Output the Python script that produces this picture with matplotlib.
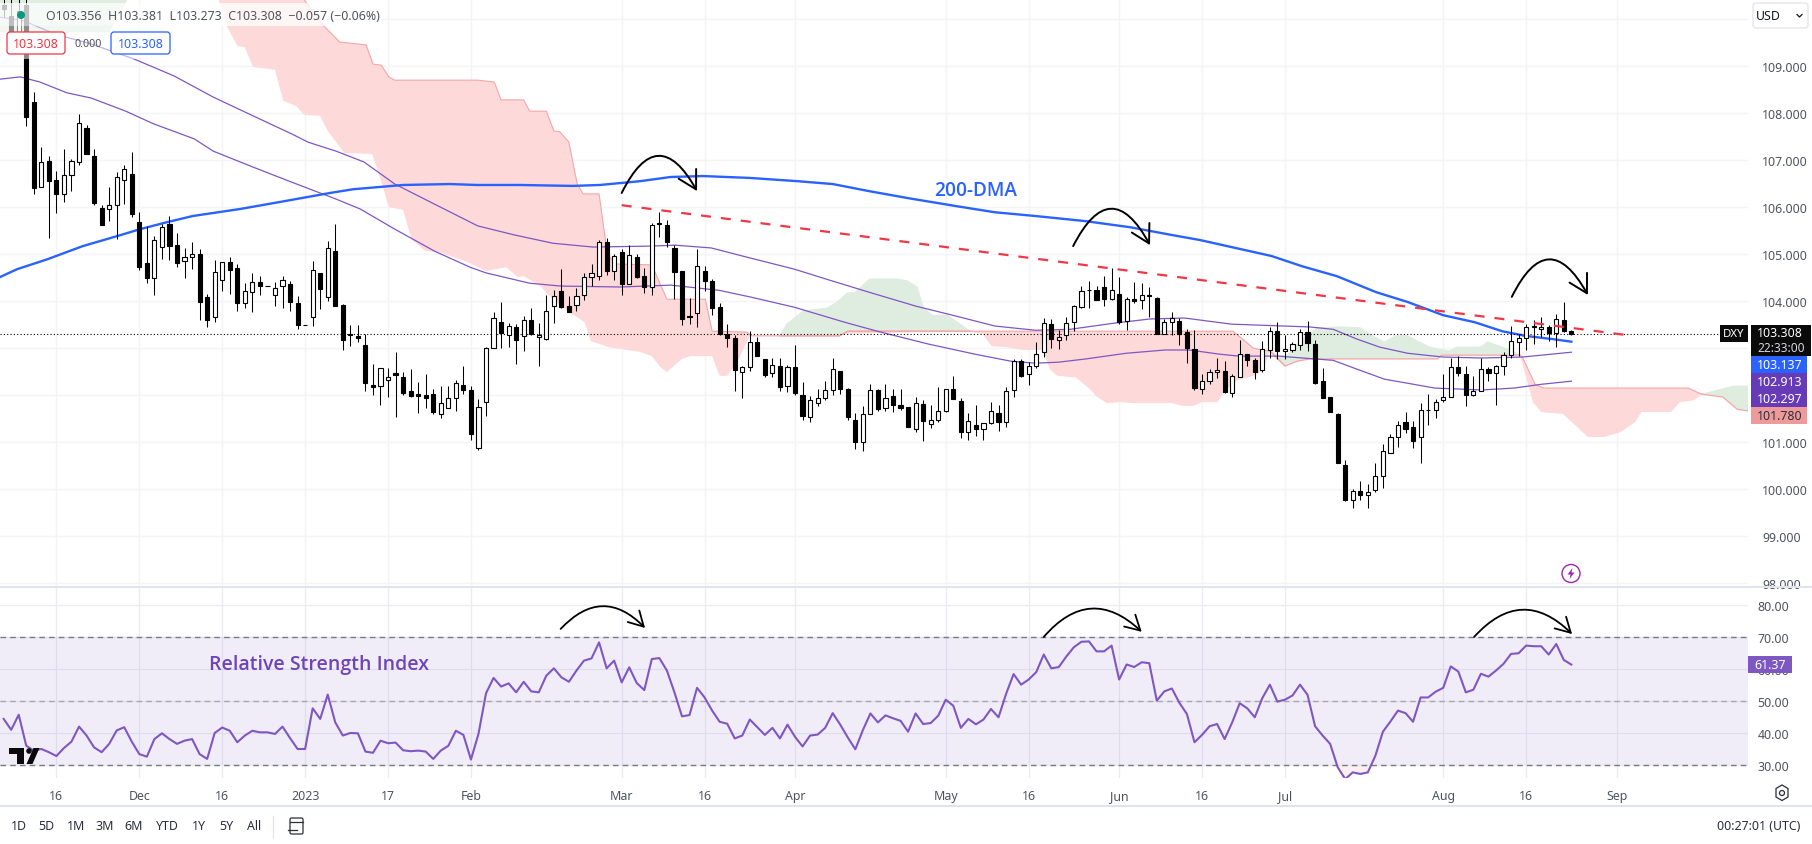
import numpy as np
from matplotlib import pyplot as plt
from matplotlib.patches import Rectangle, FancyBboxPatch, FancyArrowPatch, Circle, Polygon

plt.rcParams['font.family'] = ['Noto Sans', 'DejaVu Sans']
plt.rcParams['font.size'] = 8.9
plt.figure(figsize=(18.12,8.45),dpi=100)

# daily candles, open high low close
candles=[[110.30,110.60,110.04,110.21],[110.06,110.60,109.72,109.72],[109.72,110.60,109.70,110.17],[110.30,110.60,107.73,107.92],
[108.23,108.44,106.28,106.41],[106.42,107.27,106.42,106.95],[106.99,107.09,105.35,106.56],[106.57,106.77,105.88,106.28],
[106.27,107.23,106.11,106.69],[106.69,107.03,106.35,106.97],[106.96,107.99,106.90,107.78],[107.69,107.74,107.13,107.13],
[107.08,107.23,106.04,106.09],[105.99,106.05,105.62,105.62],[105.95,106.42,105.71,106.05],[106.05,106.74,105.32,106.65],
[106.57,106.89,106.06,106.82],[106.71,107.18,105.79,105.86],[105.69,105.89,104.67,104.73],[104.82,105.59,104.39,104.49],
[104.49,105.39,104.13,105.29],[105.16,105.64,104.90,105.57],[105.63,105.82,104.87,105.18],[105.20,105.45,104.73,104.81],
[104.86,105.14,104.49,104.93],[104.93,105.25,104.69,105.00],[105.00,105.10,103.60,103.98],[104.08,104.16,103.45,103.60],
[103.67,104.88,103.56,104.61],[104.44,104.84,104.22,104.84],[104.84,104.93,104.15,104.66],[104.71,104.79,103.79,103.96],
[103.95,104.38,103.86,104.22],[104.20,104.59,103.77,104.40],[104.40,104.54,104.13,104.32],[104.33,104.33,104.33,104.33],
[104.12,104.40,103.90,104.27],[104.33,104.54,103.86,104.45],[104.37,104.43,103.79,103.98],[103.95,104.10,103.40,103.49],
[103.50,103.50,103.50,103.50],[103.67,104.86,103.47,104.67],[104.59,104.59,103.84,104.26],[104.08,105.27,104.01,105.14],
[105.06,105.64,103.89,103.90],[103.91,103.93,102.96,103.18],[103.31,103.49,103.05,103.27],[103.26,103.49,103.14,103.22],
[103.06,103.30,102.09,102.25],[102.22,102.66,102.00,102.18],[102.19,102.57,101.79,102.57],[102.33,102.57,101.96,102.38],
[102.47,102.91,101.54,102.42],[102.38,102.49,102.01,102.05],[102.09,102.56,101.97,101.99],[102.03,102.27,101.61,101.99],
[102.00,102.44,101.73,101.93],[102.03,102.13,101.60,101.65],[101.59,102.19,101.51,101.83],[101.72,102.19,101.72,101.93],
[101.93,102.32,101.67,102.25],[102.22,102.62,102.03,102.10],[102.10,102.19,101.05,101.18],[100.87,101.92,100.84,101.74],
[101.85,103.02,101.56,103.00],[103.00,103.76,103.00,103.63],[103.55,103.98,103.00,103.33],[103.27,103.53,103.03,103.47],
[103.44,103.51,102.67,103.18],[103.25,103.68,102.93,103.59],[103.59,103.85,103.27,103.30],[103.23,103.53,102.61,103.27],
[103.20,104.12,103.18,103.80],[103.89,104.23,103.54,104.10],[104.21,104.68,103.86,103.88],[103.89,104.10,103.76,103.76],
[103.91,104.27,103.80,104.10],[104.12,104.59,104.03,104.51],[104.51,104.78,104.33,104.59],[104.54,105.31,104.44,105.25],
[105.25,105.35,104.56,104.63],[104.63,105.00,104.44,104.95],[105.04,105.10,104.12,104.37],[104.37,105.19,104.37,104.98],
[104.93,105.00,104.50,104.52],[104.53,104.70,104.18,104.30],[104.29,105.66,104.13,105.61],[105.67,105.89,105.37,105.65],
[105.62,105.72,105.16,105.26],[105.12,105.19,104.04,104.62],[104.63,104.63,103.49,103.62],[103.68,104.06,103.51,103.67],
[103.74,105.10,103.45,104.74],[104.63,104.74,104.22,104.43],[104.42,104.47,103.71,103.86],[103.87,103.95,103.28,103.30],
[103.31,103.52,103.02,103.22],[103.21,103.28,102.09,102.54],[102.50,102.62,101.94,102.59],[102.60,103.36,102.51,103.12],
[103.12,103.23,102.84,102.84],[102.76,102.77,102.39,102.43],[102.48,102.79,102.39,102.65],[102.63,102.79,102.09,102.18],
[102.20,102.64,102.07,102.59],[102.59,103.06,102.01,102.05],[102.01,102.27,101.48,101.56],[101.53,101.99,101.43,101.89],
[101.84,102.14,101.77,101.93],[101.94,102.29,101.90,102.10],[102.10,102.80,102.01,102.55],[102.52,102.52,102.03,102.13],
[102.14,102.16,101.48,101.54],[101.48,101.61,100.86,101.01],[101.01,101.76,100.82,101.59],[101.59,102.23,101.59,102.10],
[102.10,102.14,101.67,101.71],[101.72,102.23,101.67,101.94],[101.99,102.12,101.65,101.80],[101.80,102.12,101.68,101.73],
[101.74,101.74,101.33,101.33],[101.27,101.95,101.22,101.84],[101.82,101.89,101.03,101.45],[101.39,101.80,101.30,101.47],
[101.48,102.18,101.43,101.67],[101.67,102.12,101.65,102.12],[102.14,102.40,101.92,101.92],[101.87,101.93,101.09,101.22],
[101.21,101.63,101.05,101.46],[101.37,101.79,101.14,101.29],[101.29,101.40,101.05,101.40],[101.40,101.85,101.38,101.66],
[101.63,101.80,101.24,101.42],[101.42,102.17,101.33,102.08],[102.10,102.77,101.97,102.72],[102.72,102.77,102.39,102.41],
[102.44,102.70,102.22,102.61],[102.61,103.12,102.57,102.87],[102.91,103.63,102.82,103.53],[103.51,103.61,103.01,103.19],
[103.18,103.39,102.99,103.23],[103.27,103.66,103.18,103.53],[103.55,103.91,103.37,103.89],[103.87,104.32,103.85,104.21],
[104.23,104.42,103.85,104.23],[104.23,104.32,104.03,104.03],[104.29,104.53,103.90,104.05],[104.05,104.70,104.03,104.23],
[104.15,104.51,103.51,103.55],[103.57,104.08,103.39,104.04],[104.04,104.40,103.95,104.00],[104.02,104.38,103.84,104.12],
[104.12,104.29,103.66,104.10],[104.06,104.08,103.31,103.31],[103.29,103.61,103.29,103.55],[103.55,103.76,103.27,103.63],
[103.57,103.63,103.07,103.31],[103.34,103.40,102.69,103.01],[102.98,103.38,102.11,102.15],[102.12,102.44,102.03,102.31],
[102.31,102.55,102.24,102.49],[102.49,102.78,102.36,102.54],[102.51,102.72,102.05,102.07],[102.04,102.46,101.95,102.40],
[102.38,103.17,102.38,102.87],[102.87,102.87,102.62,102.75],[102.74,102.80,102.35,102.50],[102.53,103.15,102.50,102.98],
[102.95,103.44,102.80,103.36],[103.36,103.55,102.77,102.93],[102.93,103.27,102.77,102.98],[102.96,103.12,102.91,103.08],
[103.06,103.40,102.96,103.35],[103.35,103.57,102.94,103.11],[103.08,103.18,102.24,102.25],[102.29,102.57,101.94,101.94],
[101.95,101.97,101.64,101.64],[101.59,101.61,100.55,100.56],[100.52,100.61,99.75,99.77],[99.76,100.01,99.60,99.97],
[99.97,100.18,99.77,99.88],[99.88,100.12,99.60,99.93],[99.98,100.55,99.94,100.29],[100.29,100.97,100.03,100.82],
[100.77,101.18,100.76,101.10],[101.10,101.44,100.90,101.37],[101.42,101.65,101.20,101.28],[101.33,101.44,100.87,101.03],
[101.10,101.84,100.56,101.69],[101.69,102.03,101.36,101.69],[101.69,101.91,101.52,101.86],[101.89,102.44,101.86,101.97],
[101.97,102.78,101.97,102.59],[102.59,102.84,102.40,102.48],[102.46,102.63,101.76,102.01],[102.01,102.40,101.98,102.08],
[102.08,102.80,102.08,102.55],[102.55,102.59,102.30,102.48],[102.48,102.65,101.79,102.63],[102.61,102.91,102.43,102.86],
[102.86,103.46,102.79,103.16],[103.14,103.29,102.84,103.21],[103.21,103.52,102.96,103.44],[103.48,103.59,103.08,103.44],
[103.40,103.67,103.23,103.44],[103.44,103.50,103.15,103.33],[103.33,103.72,103.03,103.61],[103.59,103.98,103.35,103.37],
[103.356,103.381,103.273,103.308]]
o,h,l,c=np.array(candles).T
days=np.arange(len(c))

ma200=np.array([[-0.5,104.51],[1.8,104.68],[5.8,104.89],[10.5,105.17],[15.0,105.38],[18.1,105.53],[21.7,105.68],[25.1,105.81],[31.4,105.96],[36.7,106.11],
[43.3,106.30],[46.4,106.38],[53.0,106.47],[59.2,106.49],[62.8,106.47],[68.5,106.47],[75.5,106.45],[79.1,106.47],[84.4,106.55],[88.5,106.64],
[92.8,106.66],[99.0,106.62],[105.4,106.55],[110.0,106.49],[114.8,106.34],[120.0,106.19],[126.4,106.02],[131.5,105.89],[136.9,105.81],[143.6,105.70],
[149.5,105.57],[155.2,105.40],[158.7,105.30],[168.2,104.96],[172.3,104.74],[176.9,104.53],[182.1,104.19],[186.3,103.98],[191.0,103.70],[195.2,103.55],
[198.8,103.36],[201.9,103.26],[205.6,103.19],[208,103.137]])
ma100=np.array([[-0.5,110.04],[2.7,109.96],[6.8,109.68],[11.6,109.47],[17.3,109.15],[22.6,108.79],[27.8,108.34],[33.1,107.94],[38.3,107.55],[40.4,107.38],
[44.1,107.19],[47.8,106.96],[51.9,106.49],[57.2,106.06],[62.9,105.60],[67.7,105.41],[72.9,105.23],[78.2,105.15],[85.9,105.17],[89.1,105.19],
[93.9,105.13],[98.0,104.96],[104.9,104.68],[109.5,104.45],[114.8,104.19],[121.1,103.89],[126.4,103.68],[131.5,103.47],[136.9,103.38],[141.5,103.40],
[147.3,103.53],[152.1,103.62],[156.7,103.64],[162.9,103.51],[173.3,103.45],[176.4,103.40],[179.6,103.19],[182.6,103.02],[186.3,102.89],[191.0,102.81],
[196.1,102.79],[201.5,102.81],[208,102.913]])
ma50=np.array([[-0.5,108.72],[2.2,108.77],[4.8,108.66],[8.4,108.43],[11.6,108.32],[16.2,108.04],[19.9,107.77],[25.3,107.45],[27.8,107.19],[33.1,106.85],
[37.9,106.55],[44.1,106.17],[47.3,105.96],[51.9,105.53],[57.2,105.06],[61.9,104.72],[64.0,104.60],[69.8,104.38],[73.9,104.32],[81.8,104.30],
[88.5,104.34],[94.9,104.23],[99.0,104.09],[104.9,103.87],[111.6,103.55],[115.9,103.36],[122.6,103.09],[128.9,102.87],[133.7,102.72],[136.9,102.68],
[139.9,102.70],[143.6,102.77],[148.9,102.89],[154.1,102.96],[157.3,102.96],[161.4,102.87],[163.9,102.83],[169.1,102.83],[176.4,102.74],[179.6,102.55],
[183.2,102.34],[189.9,102.15],[196.1,102.11],[200.4,102.15],[204.0,102.23],[208,102.297]])

# cloud edges
red1_top=[[39.3,110.53],[42.5,109.85],[44.6,109.51],[48.1,109.45],[49.0,109.04],[50.1,109.02],[51.1,108.77],[51.9,108.70],[62.9,108.70],[65.1,108.66],
[66.0,108.28],[69.0,108.28],[69.8,108.04],[72.0,108.04],[73.0,107.62],[73.8,107.60],[75.0,107.38],[76.1,106.49],[76.9,106.28],[79.0,106.28],
[80.1,105.0],[81.1,104.79],[86.0,104.77],[88.0,104.04],[93.1,104.04],[94.0,103.36],[98.6,103.34],[99.3,103.26],[110.9,103.26],[112.0,103.36],[127.5,103.36]]
red1_low=[[28.3,110.53],[29.6,109.85],[31.0,109.43],[32.0,109.40],[33.1,108.98],[36.0,108.92],[37.1,108.26],[38.8,108.15],[39.9,107.96],[42.0,107.94],
[43.0,107.62],[45.2,107.15],[48.9,107.13],[50.1,106.55],[51.1,106.0],[53.0,105.94],[54.1,105.32],[55.9,105.07],[57.8,105.04],[61.3,104.85],
[64.0,104.64],[66.7,104.72],[68.2,104.51],[69.0,104.53],[71.2,104.32],[72.9,104.04],[75.0,103.77],[77.1,103.55],[77.9,103.15],[80.3,103.02],
[84.4,102.92],[86.0,102.83],[87.1,102.60],[88.0,102.49],[90.0,102.77],[91.1,102.83],[94.0,102.83],[95.0,102.41],[96.0,102.41],[97.3,102.70],[99.0,103.26]]
green1_top=[[103.0,103.26],[103.9,103.51],[106.1,103.79],[109.3,103.85],[110.6,103.98],[111.9,104.17],[113.0,104.19],[114.9,104.47],[118.5,104.47],[119.9,104.43],
[121.2,104.30],[122.0,103.87],[123.2,103.70],[125.2,103.70],[126.9,103.51],[128.2,103.36]]
green1_low=[[103.0,103.26],[110.9,103.26],[112.0,103.36],[128.2,103.36]]
red2_top=[[127.5,103.36],[163.1,103.36],[164.4,103.19],[165.8,103.0],[167.0,102.96],[168.0,102.94],[170.0,102.62]]
red2_low=[[127.5,103.36],[129.9,103.30],[131.1,103.04],[133.1,103.02],[135.2,102.96],[137.9,102.96],[138.8,102.55],[139.8,102.41],[142.2,102.38],[143.7,102.19],
[145.1,101.96],[146.4,101.83],[148.1,101.85],[149.8,101.83],[155.0,101.83],[156.4,101.77],[157.8,101.77],[159.0,101.85],[161.0,101.85],[162.3,102.13],
[163.7,102.32],[165.8,102.41],[167.0,102.51],[168.0,102.94]]
green2_top=[[168.0,102.94],[169.4,102.83],[170.3,102.85],[171.7,103.09],[172.8,103.26],[174.4,103.43],[177.3,103.45],[180.0,103.43],[181.6,103.26],[183.2,103.13],
[184.7,103.26],[186.3,103.26],[188.9,103.04],[190.2,102.98],[191.9,102.94],[192.8,103.02],[195.9,103.02],[196.9,103.13],[198.8,103.02],[200.3,102.92],[201.2,102.85]]
green2_low=[[168.0,102.94],[170.0,102.62],[171.6,102.72],[173.3,102.77],[190.2,102.77],[190.8,102.85],[201.2,102.85]]
red3_top=[[201.2,102.85],[201.5,102.81],[203.2,102.23],[204.3,102.15],[223.5,102.15],[225.3,102.02]]
red3_low=[[201.2,102.85],[202.9,101.85],[204.0,101.64],[206.9,101.60],[210.2,101.11],[212.3,101.11],[214.5,101.21],[216.5,101.43],[217.3,101.64],[221.2,101.64],
[222.4,101.85],[224.3,101.89],[225.3,102.02]]
green3_top=[[225.3,102.02],[229.5,102.19],[231.7,102.19]]
green3_low=[[225.3,102.02],[228.1,101.96],[230.0,101.70],[231.7,101.66]]
green0_top=[[-0.5,110.6],[13.5,110.6]]
green0_low=[[-0.5,109.72],[14.0,109.72],[16.5,110.43]]

rsi=np.array([44.4,41.0,45.7,36.0,34.5,35.0,34.0,32.8,35.3,37.3,42.0,39.2,35.5,34.0,36.6,40.8,41.8,37.3,33.4,32.6,38.1,39.9,38.1,36.6,37.6,38.1,33.4,31.9,40.0,41.7,
40.7,37.1,39.2,40.7,40.2,40.2,39.7,42.0,38.4,35.0,35.0,47.7,44.4,52.0,43.3,39.2,40.0,39.9,34.2,33.8,37.6,36.8,37.0,34.6,34.3,34.5,34.2,31.9,34.5,36.0,
40.7,39.4,31.7,39.7,52.4,57.2,54.5,55.5,52.7,56.0,53.0,52.7,57.9,60.2,57.4,56.0,59.5,62.6,63.3,68.3,60.2,62.6,55.8,60.5,55.6,53.4,63.1,63.4,59.5,52.7,
45.2,45.6,54.1,51.1,47.0,43.5,42.9,38.3,39.2,44.2,41.8,39.4,41.6,38.3,42.6,38.8,35.8,39.2,39.5,41.6,46.2,42.6,38.6,34.9,40.9,46.1,43.3,45.5,44.6,43.8,
40.4,46.1,42.8,43.1,45.4,50.4,48.5,41.6,44.4,42.7,44.2,47.5,44.9,52.2,58.4,55.1,56.7,59.0,64.5,60.2,60.6,63.9,66.8,68.5,68.6,65.5,65.5,67.3,56.7,61.4,
60.6,62.1,61.8,50.1,53.0,53.9,49.4,45.9,37.1,39.4,42.1,42.8,38.1,43.3,49.3,47.7,44.9,50.9,55.1,49.8,50.4,51.7,55.1,51.9,42.1,39.2,36.6,29.3,25.6,27.7,
27.2,27.7,32.9,40.4,43.6,47.0,46.2,43.5,51.1,51.1,52.9,54.1,60.8,59.2,52.7,53.5,58.5,57.6,59.5,61.6,64.7,64.9,67.3,67.1,67.1,64.5,67.8,62.8,61.37])

date_ticks=[7,18,29,40,51,62,82,93,105,125,136,148,159,170,191,202,214]
date_labels=['16','Dec','16','2023','17','Feb','Mar','16','Apr','May','16','Jun','16','Jul','Aug','16','Sep']

# price pane
plt.axes([0,258/845,1748/1812,587/845])
plt.xlim(-0.484,231.44)
plt.ylim(97.94,110.426)
for top,low,col,edge in [(green0_top,green0_low,'#dfece0','#dfece0'),(red1_top,red1_low,'#fdd9d9','#f5a6a6'),(green1_top,green1_low,'#dfece0','#dfece0'),
                         (red2_top,red2_low,'#fdd9d9','#f5a6a6'),(green2_top,green2_low,'#dfece0','#dfece0'),(red3_top,red3_low,'#fdd9d9','#f5a6a6'),(green3_top,green3_low,'#dfece0','#dfece0')]:
    top=np.array(top); low=np.array(low)
    plt.fill(np.r_[top[:,0],low[::-1,0]],np.r_[top[:,1],low[::-1,1]],color=col,lw=0,zorder=1)
    plt.plot(top[:,0],top[:,1],color=edge,lw=0.8,zorder=1.2)
plt.plot(np.array(green1_low)[:,0],np.array(green1_low)[:,1],color='#f5a6a6',lw=0.9,zorder=1.2)
plt.plot(np.array(green2_low)[:,0],np.array(green2_low)[:,1],color='#f5a6a6',lw=0.9,zorder=1.2)
plt.plot(np.array(green3_low)[:,0],np.array(green3_low)[:,1],color='#f5a6a6',lw=0.9,zorder=1.2)

plt.plot(ma100[:,0],ma100[:,1],color='#7e57c2',lw=0.9,zorder=2)
plt.plot(ma50[:,0],ma50[:,1],color='#7e57c2',lw=0.9,zorder=2)
plt.plot(ma200[:,0],ma200[:,1],color='#2962ff',lw=1.7,zorder=2.2)
plt.axhline(103.308,color='black',lw=0.8,ls=(0,(1,2)),zorder=2.5)

# wicks first, then bodies on top of them
plt.vlines(days,l,h,color='black',lw=0.75,zorder=3)
up=c>=o
plt.bar(days[up],(c-o)[up],bottom=o[up],width=0.55,color='white',edgecolor='black',linewidth=0.8,zorder=3.2)
plt.bar(days[~up],(c-o)[~up],bottom=o[~up],width=0.55,color='black',edgecolor='black',linewidth=0.8,zorder=3.2)

plt.plot([82.0,216.2],[106.04,103.26],color='#f23645',lw=1.6,ls=(0,(4.5,4.5)),zorder=4)
for start,tip in [((82.0,106.30),(92.0,106.34)),((141.9,105.17),(152.1,105.19)),((200.1,104.09),(210.2,104.13))]:
    plt.gca().add_patch(FancyArrowPatch(start,tip,arrowstyle='->,head_length=0.8,head_width=0.45',connectionstyle='arc3,rad=-0.95',color='black',lw=1.4,shrinkA=0,shrinkB=0,mutation_scale=16,zorder=5))

plt.xticks(date_ticks,[])
plt.yticks(np.arange(98,111),[f'{v}.000' for v in range(98,110)]+[''])
plt.gca().yaxis.tick_right()
plt.tick_params(length=0,pad=10,labelcolor='#50535e')
plt.grid(color='#f3f4f7',lw=1)
plt.gca().set_axisbelow(True)
for s in plt.gca().spines.values():
    s.set_visible(False)

# rsi pane
plt.axes([0,66/845,1748/1812,191/845])
plt.xlim(-0.484,231.44)
plt.ylim(25.94,85.6)
plt.axhspan(30,70,color='#7e57c2',alpha=0.1,lw=0,zorder=1)
plt.fill_between(days,rsi,30,where=rsi<30,color='#f23645',alpha=0.08,lw=0,zorder=1)
for v,col in [(70,'#787b86'),(50,'#a8a6b0'),(30,'#787b86')]:
    plt.axhline(v,color=col,lw=1,ls=(0,(4,3)),zorder=2)
plt.plot(days,rsi,color='#7e57c2',lw=1.5,zorder=3)
for start,tip in [((73.9,72.5),(85.1,72.8)),((138.0,70),(151.0,71.6)),((195.1,70),(208.1,70.9))]:
    plt.gca().add_patch(FancyArrowPatch(start,tip,arrowstyle='->,head_length=0.75,head_width=0.42',connectionstyle='arc3,rad=-0.52',color='black',lw=1.3,shrinkA=0,shrinkB=0,mutation_scale=14,zorder=5))
plt.xticks(date_ticks,date_labels)
plt.yticks([30,40,50,60,70,80],['30.00','40.00','50.00','60.00','70.00','80.00'])
plt.gca().yaxis.tick_right()
plt.tick_params(length=0,labelcolor='#50535e')
plt.tick_params(axis='y',pad=7)
plt.tick_params(axis='x',pad=8)
plt.grid(color='#ebecf2',lw=1)
plt.gca().set_axisbelow(True)
for s in plt.gca().spines.values():
    s.set_visible(False)

# everything around the panes, in picture pixels
plt.axes([0,0,1,1])
plt.xlim(0,1812)
plt.ylim(845,0)
plt.axis('off')
ax=plt.gca()
ax.add_patch(Rectangle((0,4),325,23,color='white',alpha=0.75,lw=0))
ax.add_patch(Rectangle((0,27),172,33,color='white',alpha=0.55,lw=0))
ax.add_patch(Rectangle((0,587),1812,1.6,color='#e0e3eb',lw=0))
ax.add_patch(Rectangle((0,806),1812,1.6,color='#e0e3eb',lw=0))
ax.add_patch(Circle((21,16),4,color='#089981',lw=0))
plt.text(46,17,'O103.356  H103.381  L103.273  C103.308  −0.057 (−0.06%)',va='center',color='#50535e')

# small boxes of the legend
ax.add_patch(FancyBboxPatch((7,33),58,22,boxstyle='round,pad=0,rounding_size=3',fc='white',ec='#f23645',lw=0.9))
plt.text(36,44.5,'103.308',ha='center',va='center',color='#f23645')
plt.text(88,44.5,'0.000',ha='center',va='center',color='#50535e',size=7.8)
ax.add_patch(FancyBboxPatch((111,33),59,22,boxstyle='round,pad=0,rounding_size=3',fc='white',ec='#2962ff',lw=0.9))
plt.text(140.5,44.5,'103.308',ha='center',va='center',color='#2962ff')

plt.text(976,191,'200-DMA',ha='center',va='center',color='#2962ff',size=13.7,family='Open Sans',weight='semibold')
plt.text(319,665.5,'Relative Strength Index',ha='center',va='center',color='#6d45b8',size=14,family='Open Sans',weight='semibold')

# last values on the scale
ax.add_patch(Rectangle((1720,326),28,17,color='#0a0a0a',lw=0))
plt.text(1734,334.5,'DXY',ha='center',va='center',color='white',weight='bold',size=8.2)
ax.add_patch(Rectangle((1751,326),60,31,color='#0a0a0a',lw=0))
plt.text(1757,334,'103.308',va='center',color='white')
plt.text(1757,349,'22:33:00',va='center',color='#d5d6da',size=8.6)
for y,lab,col,tc in [(357,'103.137','#2962ff','white'),(374,'102.913','#673ab7','white'),(391,'102.297','#673ab7','white'),(408,'101.780','#ef9a9a','#2a2e39')]:
    ax.add_patch(Rectangle((1751,y),56,17,color=col,lw=0))
    plt.text(1757,y+8.5,lab,va='center',color=tc)
ax.add_patch(Rectangle((1748,657),44,17,color='#7e57c2',lw=0))
plt.text(1770,665.5,'61.37',ha='center',va='center',color='white')

ax.add_patch(FancyBboxPatch((1753,4),55,25,boxstyle='round,pad=0,rounding_size=3',fc='white',ec='#e0e3eb',lw=0.9))
plt.text(1756,16.5,'USD',va='center',color='#131722')
plt.plot([1797,1799.5,1802],[15.5,18,15.5],color='#131722',lw=0.9)

# flash circle
ax.add_patch(Circle((1571,574.5),9,fc='white',ec='#9c27b0',lw=1))
ax.add_patch(Polygon([(1572.5,569),(1567.5,575.5),(1570.5,575.5),(1569.5,580),(1574.5,573.5),(1571.5,573.5)],color='#9c27b0',lw=0))

# logo
ax.add_patch(Rectangle((9,749),15,5.5,color='#0a0a0a',lw=0))
ax.add_patch(Rectangle((16.5,749),7.5,16,color='#0a0a0a',lw=0))
ax.add_patch(Circle((29,752),2.8,color='#0a0a0a',lw=0))
ax.add_patch(Polygon([(33.5,749),(39.5,749),(32.5,765),(26.5,765)],color='#0a0a0a',lw=0))

# toolbar
for x,lab in [(19,'1D'),(46,'5D'),(76,'1M'),(105,'3M'),(134,'6M'),(167,'YTD'),(199,'1Y'),(226.6,'5Y'),(254,'All')]:
    plt.text(x,827,lab,ha='center',va='center',color='#2a2e39')
plt.plot([273,273],[817,838],color='#e0e3eb',lw=0.9)
ax.add_patch(FancyBboxPatch((290,819),13,16,boxstyle='round,pad=0,rounding_size=1.5',fc='none',ec='#2a2e39',lw=0.9))
plt.plot([290,303],[823,823],color='#2a2e39',lw=0.9)
plt.plot([288,297],[831,831],color='#2a2e39',lw=0.9)
plt.text(1759,827,'00:27:01 (UTC)',ha='center',va='center',color='#2a2e39')
ax.add_patch(Polygon([(1782,786),(1788,789.5),(1788,798),(1782,801.5),(1776,798),(1776,789.5)],fc='white',ec='#2a2e39',lw=0.9))
ax.add_patch(Circle((1782,794),2.5,fc='white',ec='#2a2e39',lw=0.9))

plt.savefig('out.png',dpi=100)
